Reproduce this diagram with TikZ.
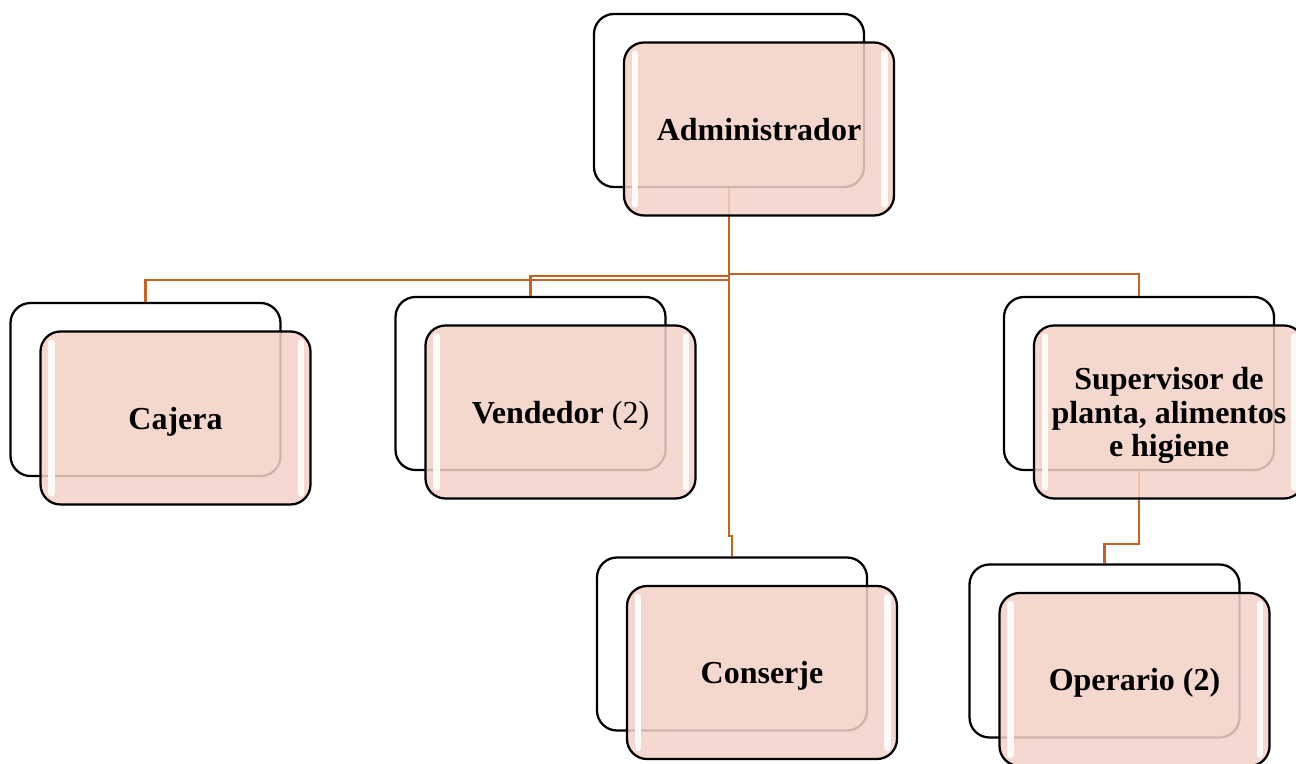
\documentclass[tikz,border=0pt]{standalone}
\usepackage{fontspec}
\setmainfont{Liberation Serif}
\usetikzlibrary{calc}

\definecolor{boxpink}{RGB}{243,210,199}
\definecolor{linkorange}{RGB}{200,98,35}

\tikzset{
  backbox/.style={draw=black, fill=white, line width=1.7pt, rounded corners=15pt,
    minimum width=202.5pt, minimum height=129.75pt, inner sep=0pt},
  frontbox/.style={draw=black, fill=boxpink, fill opacity=0.86, text opacity=1,
    line width=1.7pt, rounded corners=15pt, minimum width=202.5pt,
    minimum height=129.75pt, inner sep=0pt, align=center, text depth=0pt,
    font=\bfseries\fontsize{24}{25}\selectfont},
  link/.style={draw=linkorange, line width=2pt},
  shine/.style={draw=white, line width=5pt, line cap=round, opacity=0.9}
}

% white gloss strips on the left and right of a front box
\newcommand\gloss[1]{%
  \draw[shine] ([xshift=9pt]$(#1.north west)!.07!(#1.south west)$) -- ([xshift=9pt]$(#1.north west)!.93!(#1.south west)$);
  \draw[shine] ([xshift=-8pt]$(#1.north east)!.07!(#1.south east)$) -- ([xshift=-8pt]$(#1.north east)!.93!(#1.south east)$);}

\begin{document}
\begin{tikzpicture}[x=0.75pt,y=0.75pt,yscale=-1,xscale=1]
\useasboundingbox (0,0) rectangle (1296,764);

%Back boxes
\node[backbox] (admin-b) at (729,100.5) {};
\node[backbox] (cajera-b) at (145.5,389.5) {};
\node[backbox] (vendedor-b) at (530.5,383.5) {};
\node[backbox] (superv-b) at (1139,383.5) {};
\node[backbox] (conserje-b) at (732,644) {};
\node[backbox] (operario-b) at (1104.5,651) {};

%Connectors
\draw[link] (admin-b.south) -- ++(0,92) -| (cajera-b.north);
\draw[link] (admin-b.south) -- ++(0,88) -| (vendedor-b.north);
\draw[link] (admin-b.south) -- ++(0,86) -| (superv-b.north);
\draw[link] (admin-b.south) -- ++(0,348) -| (conserje-b.north);
\draw[link] (superv-b.south) -- ++(0,73) -| (operario-b.north);

%Front boxes
\node[frontbox] (admin) at (759,129) {Administrador};
\node[frontbox] (cajera) at (175.5,418) {Cajera};
\node[frontbox] (vendedor) at (560.5,412) {Vendedor {\mdseries (2)}};
\node[frontbox] (superv) at (1169,412) {Supervisor de\\planta, alimentos\\e higiene};
\node[frontbox] (conserje) at (762,672.5) {Conserje};
\node[frontbox] (operario) at (1134.5,679.5) {Operario (2)};

%Gloss
\gloss{admin}
\gloss{cajera}
\gloss{vendedor}
\gloss{superv}
\gloss{conserje}
\gloss{operario}

\end{tikzpicture}
\end{document}
